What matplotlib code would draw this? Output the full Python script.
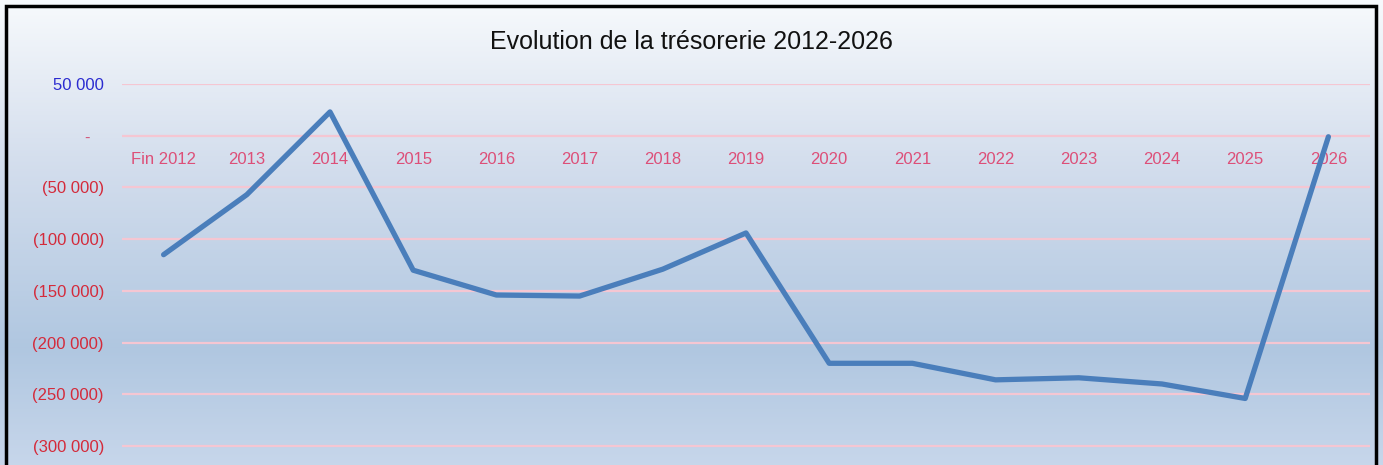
import numpy as np
import matplotlib.pyplot as plt
from matplotlib.patches import Rectangle

# Data: cash position at year end
years = ["Fin 2012", "2013", "2014", "2015", "2016", "2017", "2018", "2019",
         "2020", "2021", "2022", "2023", "2024", "2025", "2026"]
tresorerie = [-115000, -57000, 23000, -130000, -154000, -155000, -129000, -94000,
              -220000, -220000, -236000, -234000, -240000, -254000, -1000]
y_ticks = [50000, 0, -50000, -100000, -150000, -200000, -250000, -300000]

plt.rcParams['font.family'] = ['Liberation Sans Narrow', 'Liberation Sans', 'DejaVu Sans']

W, H = 1383, 465
fig = plt.figure(figsize=(W / 100, H / 100), dpi=100)

# background gradient (top of image = first row)
bg = fig.add_axes([0, 0, 1, 1], zorder=0)
stops_y = [0, 0.35, 0.75, 1.0]
stops_c = [np.array([0.97, 0.98, 0.99]), np.array([0.83, 0.87, 0.93]),
           np.array([0.69, 0.78, 0.88]), np.array([0.78, 0.84, 0.92])]
t = np.linspace(0, 1, 300)
grad = np.stack([np.interp(t, stops_y, [c[i] for c in stops_c]) for i in range(3)], axis=1)
bg.imshow(grad[:, None, :], aspect='auto', extent=[0, 1, 0, 1], origin='upper')
bg.axis('off')
bg.add_patch(Rectangle((6 / W, -0.2), 1370 / W, 1.2 - 6 / H, fill=False, edgecolor='black',
                       linewidth=2.5, transform=bg.transAxes, clip_on=False))

# main axes: x from 122 to 1370 px, y from 84 (50 000) to ~447 (-301 500)
left, right, top, bottom = 122, 1370, 84, 447.6
ax = fig.add_axes([left / W, 1 - bottom / H, (right - left) / W, (bottom - top) / H], zorder=1)
ax.patch.set_alpha(0)

x = np.arange(len(years))
ax.plot(x, tresorerie, color='#4a7ebb', linewidth=3.8, solid_joinstyle='round',
        solid_capstyle='round', zorder=3, clip_on=False)

ax.set_xlim(-0.5, len(years) - 0.5)
ax.set_ylim(-301500, 50000)
ax.set_yticks(y_ticks)


def fmt(v):
    if v == 0:
        return "-   "
    s = f"{abs(v):,}".replace(",", " ")
    return f"({s})" if v < 0 else s


ax.set_yticklabels([fmt(v) for v in y_ticks])
for lab, v in zip(ax.get_yticklabels(), y_ticks):
    if v > 0:
        lab.set_color('#2b2bd0')
    elif v == 0:
        lab.set_color('#d2577a')
    else:
        lab.set_color('#d42a3a')
ax.tick_params(axis='y', length=0, pad=13, labelsize=12)
ax.grid(axis='y', color='#f5c6d2', linewidth=1.6)
ax.set_axisbelow(True)

ax.set_xticks(x)
ax.set_xticklabels(years)
ax.spines['bottom'].set_position(('data', 0))
ax.tick_params(axis='x', length=0, pad=12, labelsize=12, labelcolor='#dd4f78')
for s in ax.spines.values():
    s.set_visible(False)

fig.text(0.5, 1 - 42 / H, "Evolution de la trésorerie 2012-2026", ha='center', va='center',
         fontsize=18, color='#111111')

fig.savefig("out.png", dpi=100)
